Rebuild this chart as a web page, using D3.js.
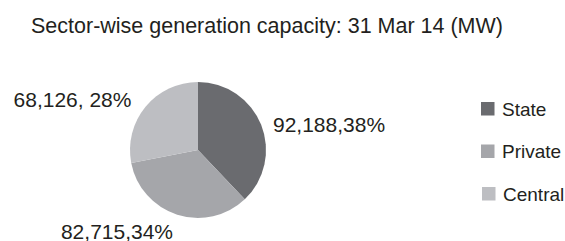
<!DOCTYPE html>
<html><head><meta charset="utf-8">
<script src="https://cdn.jsdelivr.net/npm/d3@7"></script>
<style>body{margin:0;background:#fff}svg{display:block}</style>
</head><body>
<script>
const categories = ["State", "Private", "Central"];
const values = [92188, 82715, 68126];
const labels = ["92,188,38%", "82,715,34%", "68,126, 28%"];
const colors = ["#6a6b6f", "#a5a6aa", "#bdbec2"];
const title = "Sector-wise generation capacity: 31 Mar 14 (MW)";

const W = 565, H = 241;
const font = "Liberation Sans, Arial, sans-serif";
const svg = d3.select("body").append("svg").attr("width", W).attr("height", H);
svg.append("text").attr("x", 267).attr("y", 33).attr("text-anchor", "middle")
  .attr("font-family", font).attr("font-size", 21.5)
  .attr("fill", "#231f20").text(title);

const cx = 198, cy = 150, r = 68;
const pie = d3.pie().sort(null).value(d => d)(values);
const arc = d3.arc().innerRadius(0).outerRadius(r);
const g = svg.append("g").attr("transform", `translate(${cx},${cy})`);
g.selectAll("path").data(pie).join("path").attr("d", arc)
  .attr("fill", (d, i) => colors[i]);

const labelPos = [[273, 131.5, "start"], [117, 238.5, "middle"], [72.5, 107, "middle"]];
svg.selectAll("text.lbl").data(labels).join("text").attr("class", "lbl")
  .attr("x", (d, i) => labelPos[i][0]).attr("y", (d, i) => labelPos[i][1])
  .attr("text-anchor", (d, i) => labelPos[i][2])
  .attr("font-family", font).attr("font-size", 21)
  .attr("fill", "#231f20").text(d => d);

const leg = svg.append("g").attr("transform", "translate(481,102)");
const items = leg.selectAll("g").data(categories).join("g")
  .attr("transform", (d, i) => `translate(${i === 2 ? 1 : 0},${i * 42.5})`);
items.append("rect").attr("width", 13.5).attr("height", 13.5).attr("fill", (d, i) => colors[i]);
items.append("text").attr("x", 21).attr("y", 13.5)
  .attr("font-family", font).attr("font-size", 19)
  .attr("fill", "#231f20").text(d => d);
</script>
</body></html>
